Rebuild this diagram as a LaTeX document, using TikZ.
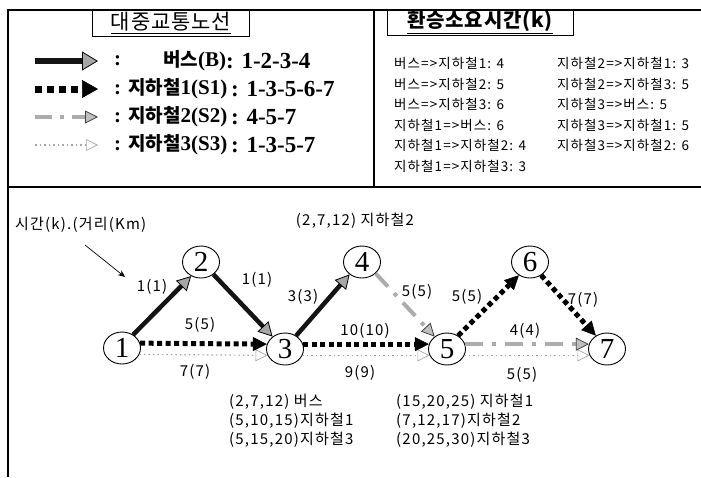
\documentclass[tikz,border=0pt]{standalone}
\usepackage{fontspec}
\setmainfont{Liberation Serif}
\newfontfamily\kr[LetterSpace=8]{Noto Sans CJK KR}
\newfontfamily\krt[LetterSpace=4]{Noto Sans CJK KR}
\newfontfamily\krb{Noto Sans CJK KR}
\usetikzlibrary{arrows.meta,shapes.geometric,calc}
\newcommand\KB[1]{{\krb\bfseries\fontsize{19}{21}\selectfont #1}}
\begin{document}
\begin{tikzpicture}[x=1pt,y=-1pt,
  frame/.style={line width=1.3pt},
  titlebox/.style={draw, line width=1pt, inner sep=0pt},
  stop/.style={ellipse, draw, line width=0.9pt, minimum width=37pt, minimum height=32pt, inner sep=0pt, font=\fontsize{29}{29}\selectfont},
  bus/.style={line width=4.5pt, draw=black!92, -{Triangle[length=14pt,width=15pt,line width=0.8pt,fill=gray!70,color=black]}},
  sone/.style={line width=5pt, dash pattern=on 5pt off 3.5pt, -{Triangle[length=14pt,width=14pt,line width=0.5pt,fill=black]}},
  stwo/.style={line width=4pt, draw=gray!65, dash pattern=on 18pt off 9pt on 4pt off 9pt, -{Triangle[length=13pt,width=13pt,line width=0.8pt,fill=gray!50,color=black!75]}},
  sthree/.style={line width=1.2pt, draw=gray!70, dash pattern=on 1.5pt off 3pt, -{Triangle[open,length=12pt,width=12pt,line width=0.7pt]}},
  lab/.style={font=\kr\fontsize{15}{17}\selectfont, inner sep=1pt},
  info/.style={font=\kr\fontsize{13.5}{16}\selectfont, inner sep=0pt, anchor=west},
  lgt/.style={font=\bfseries\fontsize{21}{24}\selectfont, inner sep=0pt, anchor=west},
  rte/.style={font=\bfseries\fontsize{23}{26}\selectfont, inner sep=0pt, anchor=west}
]
\useasboundingbox (0,0) rectangle (701,477);
% frame
\draw[frame] (8,477) -- (8,10) -- (701,10);
\draw[frame] (374,10) -- (374,187);
\draw[frame] (8,187) -- (701,187);
% titles
\node[titlebox, minimum width=157pt, minimum height=27pt] (t1) at (171,23)
  {\krt\fontsize{21}{23}\selectfont\underline{대중교통노선}};
\node[titlebox, minimum width=186pt, minimum height=25pt] (t2) at (480,22.5)
  {\krt\bfseries\fontsize{20}{22}\selectfont\underline{환승소요시간(k)}};
% legend arrows
\coordinate (a1) at (35,61); \coordinate (b1) at (98,61);
\coordinate (a2) at (35,89); \coordinate (b2) at (98,89);
\coordinate (a3) at (35,117); \coordinate (b3) at (98,117);
\coordinate (a4) at (35,145); \coordinate (b4) at (98,145);
\draw[bus, line width=6pt, -{Triangle[length=16pt,width=19pt,line width=0.8pt,fill=gray!70,color=black]}] (a1) -- (b1);
\draw[sone, line width=7pt, dash pattern=on 7pt off 5pt, -{Triangle[length=16pt,width=18pt,line width=0.5pt,fill=black]}] (a2) -- (b2);
\draw[stwo, dash pattern=on 17pt off 8pt on 4pt off 8pt] (a3) -- (b3);
\draw[sthree] (a4) -- (b4);
% legend text
\node[lgt] (c1) at (114,61) {:};
\node[lgt] (n1) at (163,61) {\KB{버스}(B)};
\node[rte] (r1) at (226,61) {: 1-2-3-4};
\node[lgt] (n2) at (114,89) {: \KB{지하철}1(S1)};
\node[rte] (r2) at (231,89) {: 1-3-5-6-7};
\node[lgt] (n3) at (114,117) {: \KB{지하철}2(S2)};
\node[rte] (r3) at (231,117) {: 4-5-7};
\node[lgt] (n4) at (114,145) {: \KB{지하철}3(S3)};
\node[rte] (r4) at (231,145) {: 1-3-5-7};
% transfer times
\node[info] (i1) at (394,63) {버스=>지하철1: 4};
\node[info] (i2) at (394,84) {버스=>지하철2: 5};
\node[info] (i3) at (394,104) {버스=>지하철3: 6};
\node[info] (i4) at (394,125) {지하철1=>버스: 6};
\node[info] (i5) at (394,145) {지하철1=>지하철2: 4};
\node[info] (i6) at (394,166) {지하철1=>지하철3: 3};
\node[info] (j1) at (557,63) {지하철2=>지하철1: 3};
\node[info] (j2) at (557,84) {지하철2=>지하철3: 5};
\node[info] (j3) at (557,104) {지하철3=>버스: 5};
\node[info] (j4) at (557,125) {지하철3=>지하철1: 5};
\node[info] (j5) at (557,145) {지하철3=>지하철2: 6};
% graph nodes
\node[stop] (s1) at (122,348) {1};
\node[stop] (s2) at (201,262) {2};
\node[stop] (s3) at (285,349) {3};
\node[stop] (s4) at (362,262) {4};
\node[stop] (s5) at (447,349) {5};
\node[stop] (s6) at (530,262) {6};
\node[stop] (s7) at (607,349) {7};
% edges
\draw[sthree] (s1.-20) -- (s3.-160);
\draw[sthree] (s3.-20) -- (s5.-160);
\draw[sthree] (s5.-20) -- (s7.-160);
\draw[sone] (s1.15) -- (s3.165);
\draw[sone] (s3.15) -- (s5.165);
\draw[sone] (s5.50) -- (s6.230);
\draw[sone] (s6.-50) -- (s7.130);
\draw[stwo] (s4.-40) -- (s5.135);
\draw[stwo] (s5.15) -- (s7.165);
\draw[bus] (s1.50) -- (s2.235);
\draw[bus] (s2.-45) -- (s3.135);
\draw[bus] (s3.50) -- (s4.225);
% edge labels
\node[lab] (l12) at (152,287) {1(1)};
\node[lab] (l23) at (257,280) {1(1)};
\node[lab] (l34) at (303,297) {3(3)};
\node[lab] (l13a) at (200,325) {5(5)};
\node[lab] (l13b) at (195,372) {7(7)};
\node[lab] (l35a) at (365,331) {10(10)};
\node[lab] (l35b) at (360,373) {9(9)};
\node[lab] (l45) at (417,292) {5(5)};
\node[lab] (l56) at (467,297) {5(5)};
\node[lab] (l67) at (583,300) {7(7)};
\node[lab] (l57a) at (525,331) {4(4)};
\node[lab] (l57b) at (522,375) {5(5)};
\node[lab] (top4) at (355,221) {(2,7,12) 지하철2};
% annotation
\node[lab, anchor=west] (ann) at (14,225) {시간(k).(거리(Km)};
\coordinate (p1) at (85,245); \coordinate (p2) at (125,277);
\draw[line width=0.7pt, -{Stealth[length=7pt,width=6pt]}] (p1) -- (p2);
% bottom data
\node[lab, anchor=west] (d1) at (228,402) {(2,7,12) 버스};
\node[lab, anchor=west] (d2) at (228,421) {(5,10,15)지하철1};
\node[lab, anchor=west] (d3) at (228,440) {(5,15,20)지하철3};
\node[lab, anchor=west] (e1) at (395,402) {(15,20,25) 지하철1};
\node[lab, anchor=west] (e2) at (395,421) {(7,12,17)지하철2};
\node[lab, anchor=west] (e3) at (395,440) {(20,25,30)지하철3};
\end{tikzpicture}
\end{document}
